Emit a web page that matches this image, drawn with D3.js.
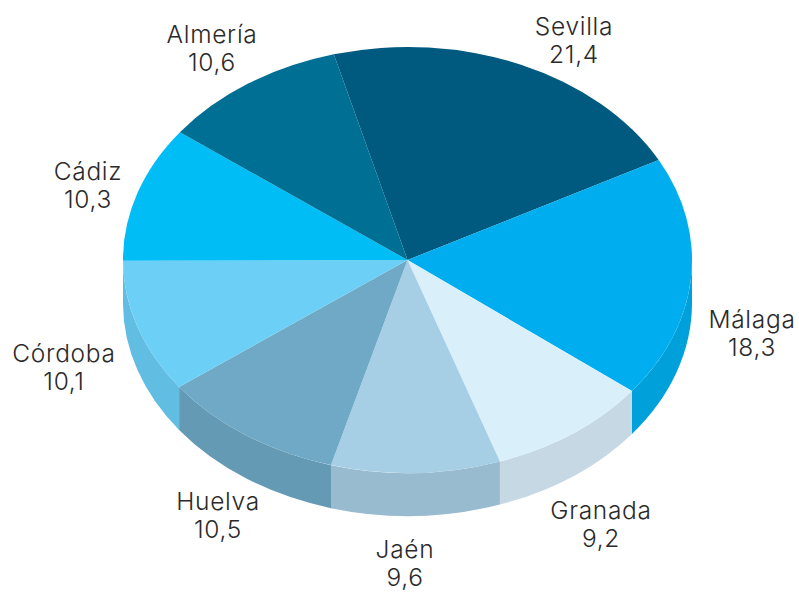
<!DOCTYPE html>
<html><head><meta charset="utf-8">
<script src="https://cdn.jsdelivr.net/npm/d3@7/dist/d3.min.js"></script>
<style>html,body{margin:0;padding:0;background:#fff}svg{display:block}
text{font-family:"Inter",sans-serif;font-weight:300;font-size:24.5px;letter-spacing:.7px;fill:#2b2a2a;text-anchor:middle}</style>
</head><body><div id="c"></div>
<script>
const categories = ["Sevilla","Málaga","Granada","Jaén","Huelva","Córdoba","Cádiz","Almería"];
const values = [21.4,18.3,9.2,9.6,10.5,10.1,10.3,10.6];
const valueLabels = ["21,4","18,3","9,2","9,6","10,5","10,1","10,3","10,6"];
const topColors = ["#005a7f","#00aeef","#d9f0fb","#a6cfe5","#6fa9c6","#6bcff6","#00bdf6","#006f94"];
const sideColors = ["#004d6c","#00a0db","#c5d8e4","#99bbcf","#659ab5","#62bde2","#00a8db","#00617f"];
const labelCentersX = [574,752,601,405,218,64,88,212];
const labelBaselinesY = [35,328,519,558,510,362,180,43];

const W=799,H=592,cx=407.5,cy=260,rx=284.5,ry=213,depth=43;
const svg=d3.select("#c").append("svg").attr("width",W).attr("height",H);
const startDeg=-15;
const pie=d3.pie().sort(null).value(d=>d)
  .startAngle(startDeg*Math.PI/180).endAngle((startDeg+360)*Math.PI/180);
const arcs=pie(values);
const x=d3.scaleLinear().domain([-1,1]).range([cx-rx,cx+rx]);
const y=d3.scaleLinear().domain([-1,1]).range([cy-ry,cy+ry]);
const px=a=>x(Math.sin(a)), py=a=>y(-Math.cos(a));

// side wall: visible part of the rim lies between 90° and 270° from the top
const sideG=svg.append("g");
arcs.forEach((d,i)=>{
  let a0=d.startAngle,a1=d.endAngle;
  if(a0<0){return;}
  a0=Math.max(a0,Math.PI/2);a1=Math.min(a1,3*Math.PI/2);
  if(a1<=a0)return;
  const p=`M${px(a0)},${py(a0)}A${rx},${ry} 0 0 1 ${px(a1)},${py(a1)}`+
    `L${px(a1)},${py(a1)+depth}A${rx},${ry} 0 0 0 ${px(a0)},${py(a0)+depth}Z`;
  sideG.append("path").attr("d",p).attr("fill",sideColors[i]);
});

// top surface: a unit d3.arc squeezed into the ellipse
const arcGen=d3.arc().innerRadius(0).outerRadius(1);
svg.append("g").attr("transform",`translate(${cx},${cy}) scale(${rx},${ry})`)
  .selectAll("path").data(arcs).join("path")
  .attr("d",arcGen).attr("fill",(d,i)=>topColors[i]);

const lab=svg.append("g");
categories.forEach((c,i)=>{
  lab.append("text").attr("x",labelCentersX[i]).attr("y",labelBaselinesY[i]).text(c);
  lab.append("text").attr("x",labelCentersX[i]).attr("y",labelBaselinesY[i]+28).text(valueLabels[i]);
});
</script></body></html>
